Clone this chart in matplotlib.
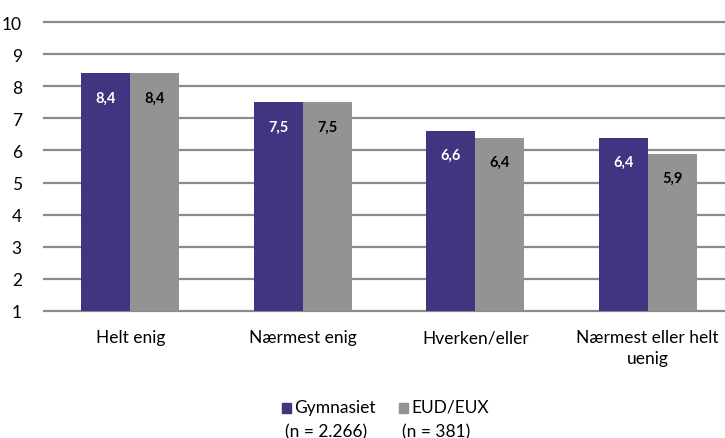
import matplotlib
matplotlib.use('Agg')
import numpy as np
import matplotlib.pyplot as plt
from matplotlib.patches import Rectangle

categories = ['Helt enig', 'Nærmest enig', 'Hverken/eller', 'Nærmest eller helt\nuenig']
gymnasiet = [8.4, 7.5, 6.6, 6.4]
eud_eux = [8.4, 7.5, 6.4, 5.9]
series_names = ['Gymnasiet', 'EUD/EUX']
series_n = ['(n = 2.266)', '(n = 381)']
yticks = list(range(1, 11))

blue = '#3f3580'
grey = '#939393'
gridc = '#8a8a8a'

plt.rcParams['font.family'] = ['Lato', 'DejaVu Sans']

W, H = 725, 439
fig = plt.figure(figsize=(W / 100, H / 100), dpi=100)
# axes box in pixels: left 44, right 734 (runs past the edge), y=1 at 312, y=10 at 23
ax = fig.add_axes([44 / W, 1 - 312 / H, (734 - 44) / W, (312 - 23) / H])

x = np.arange(len(categories))
bw = 0.284
ax.bar(x - bw / 2, np.array(gymnasiet) - 1, bw, bottom=1, color=blue, zorder=3)
ax.bar(x + bw / 2, np.array(eud_eux) - 1, bw, bottom=1, color=grey, zorder=3)

for i in range(len(categories)):
    ax.text(x[i] - bw / 2, gymnasiet[i] - 0.75, f'{gymnasiet[i]:.1f}'.replace('.', ','),
            ha='center', va='center', color='white', fontsize=10.5, fontweight='bold', zorder=4)
    ax.text(x[i] + bw / 2, eud_eux[i] - 0.75, f'{eud_eux[i]:.1f}'.replace('.', ','),
            ha='center', va='center', color='black', fontsize=10.5, fontweight='bold', zorder=4)

for t in yticks:
    ax.axhline(t, color=gridc, lw=1.6, zorder=1, clip_on=False)

ax.set_xlim(-0.5, len(categories) - 0.5)
ax.set_ylim(1, 10)
ax.set_yticks(yticks)
ax.set_yticklabels([str(t) for t in yticks], fontsize=12.5)
ax.set_xticks(x)
ax.set_xticklabels(categories, fontsize=12.5, linespacing=1.4, va='top')
ax.tick_params(length=0, pad=16, axis='y')
ax.tick_params(length=0, pad=13, axis='x')
for s in ax.spines.values():
    s.set_visible(False)

# legend below
leg_x = [282, 399]
for lx, c, name, n in zip(leg_x, [blue, grey], series_names, series_n):
    fig.patches.append(Rectangle((lx / W, 1 - 414 / H), 9 / W, 10 / H,
                                 transform=fig.transFigure, color=c))
    fig.text((lx + 12) / W, 1 - 408 / H, name, fontsize=12.5, va='center', ha='left')
    fig.text((lx + 3) / W, 1 - 432 / H, n, fontsize=12.5, va='center', ha='left')

fig.savefig('out.png', dpi=100)
